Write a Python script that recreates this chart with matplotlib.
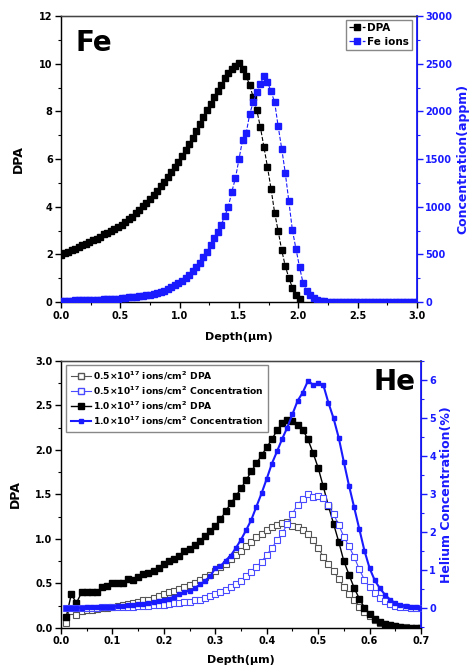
import numpy as np
import matplotlib
matplotlib.use("Agg")
import matplotlib.pyplot as plt
from matplotlib.ticker import MultipleLocator
from matplotlib.lines import Line2D

plt.rcParams['font.family'] = ['DejaVu Sans']
plt.rcParams['font.weight'] = 'bold'
plt.rcParams['mathtext.default'] = 'bf'

BLUE = '#1a1aff'

# ---- Fe panel data (depth step 0.03 um) ----
fe_dpa = [1.97, 2.05, 2.12, 2.18, 2.25, 2.32, 2.38, 2.45, 2.52, 2.60,
          2.67, 2.75, 2.84, 2.92, 3.00, 3.08, 3.14, 3.22, 3.35, 3.47,
          3.58, 3.72, 3.86, 4.02, 4.17, 4.33, 4.50, 4.68, 4.86, 5.05,
          5.25, 5.45, 5.66, 5.90, 6.13, 6.38, 6.62, 6.90, 7.18, 7.47,
          7.77, 8.06, 8.33, 8.60, 8.85, 9.12, 9.40, 9.62, 9.78, 9.90,
          10.02, 9.78, 9.50, 9.10, 8.60, 8.05, 7.35, 6.51, 5.67, 4.76,
          3.76, 2.99, 2.18, 1.52, 1.02, 0.61, 0.29, 0.13]
fe_conc = [15, 15, 16, 17, 18, 19, 20, 21, 22, 23,
           24, 26, 28, 30, 32, 35, 38, 41, 45, 49,
           53, 57, 62, 67, 72, 80, 88, 97, 108, 122,
           138, 155, 175, 198, 225, 255, 290, 325, 365, 410,
           470, 530, 600, 670, 740, 810, 900, 1000, 1160, 1300,
           1500, 1700, 1770, 1970, 2100, 2200, 2290, 2370, 2310, 2210,
           2100, 1845, 1610, 1355, 1060, 755, 560, 370, 200, 120,
           73, 45, 25, 14, 8, 5, 3, 0, 0, 0,
           0, 0, 0, 0, 0, 0, 0, 0, 0, 0,
           0, 0, 0, 0, 0, 0, 0, 0, 0, 0, 0]
fe_dpa_x = np.arange(len(fe_dpa)) * 0.03
fe_conc_x = np.arange(len(fe_conc)) * 0.03

# ---- He panel data (depth step 0.01 um) ----
he_x = np.round(np.arange(1, 71) * 0.01, 2)
dpa_05 = [0.06, 0.19, 0.15, 0.19, 0.20, 0.20, 0.21, 0.22, 0.23, 0.24,
          0.25, 0.26, 0.27, 0.28, 0.29, 0.31, 0.32, 0.34, 0.36, 0.38,
          0.40, 0.42, 0.44, 0.46, 0.48, 0.51, 0.54, 0.57, 0.60, 0.64,
          0.68, 0.72, 0.77, 0.82, 0.87, 0.92, 0.97, 1.02, 1.06, 1.10,
          1.13, 1.16, 1.18, 1.19, 1.15, 1.13, 1.10, 1.06, 0.99, 0.90,
          0.80, 0.72, 0.64, 0.55, 0.46, 0.38, 0.31, 0.24, 0.18, 0.13,
          0.09, 0.06, 0.04, 0.03, 0.02, 0.01, 0.01, 0.00, 0.00, 0.00]
conc_05 = [0.00, 0.00, 0.00, 0.00, 0.01, 0.01, 0.01, 0.02, 0.02, 0.02,
           0.03, 0.03, 0.04, 0.04, 0.05, 0.06, 0.06, 0.07, 0.08, 0.09,
           0.10, 0.12, 0.13, 0.15, 0.17, 0.20, 0.22, 0.26, 0.31, 0.36,
           0.42, 0.48, 0.55, 0.63, 0.72, 0.83, 0.95, 1.08, 1.22, 1.40,
           1.58, 1.78, 1.97, 2.20, 2.48, 2.72, 2.87, 3.00, 2.93, 2.95,
           2.90, 2.70, 2.48, 2.18, 1.88, 1.62, 1.35, 1.02, 0.74, 0.55,
           0.40, 0.27, 0.18, 0.11, 0.06, 0.03, 0.02, 0.01, 0.01, 0.00]
dpa_10 = [0.12, 0.38, 0.28, 0.40, 0.41, 0.41, 0.40, 0.46, 0.47, 0.50,
          0.50, 0.50, 0.55, 0.54, 0.57, 0.61, 0.62, 0.64, 0.67, 0.72,
          0.75, 0.78, 0.81, 0.86, 0.89, 0.93, 0.98, 1.03, 1.09, 1.15,
          1.22, 1.31, 1.40, 1.48, 1.57, 1.66, 1.76, 1.85, 1.94, 2.03,
          2.12, 2.22, 2.30, 2.34, 2.33, 2.28, 2.23, 2.12, 1.97, 1.80,
          1.59, 1.37, 1.17, 0.97, 0.75, 0.60, 0.45, 0.33, 0.23, 0.16,
          0.10, 0.07, 0.045, 0.03, 0.02, 0.01, 0.005, 0.003, 0.002, 0.001]
conc_10 = [0.00, 0.00, 0.01, 0.01, 0.02, 0.02, 0.03, 0.03, 0.04, 0.04,
           0.05, 0.06, 0.07, 0.08, 0.10, 0.11, 0.13, 0.15, 0.18, 0.21,
           0.25, 0.30, 0.36, 0.43, 0.45, 0.52, 0.62, 0.72, 0.83, 1.05,
           1.10, 1.25, 1.38, 1.58, 1.80, 2.05, 2.32, 2.67, 3.02, 3.40,
           3.80, 4.12, 4.45, 4.75, 5.10, 5.45, 5.67, 5.97, 5.88, 5.91,
           5.87, 5.40, 4.99, 4.48, 3.84, 3.22, 2.65, 2.08, 1.51, 1.05,
           0.73, 0.52, 0.35, 0.22, 0.13, 0.08, 0.05, 0.03, 0.02, 0.01]

labels_he = [r'0.5$\times$10$^{17}$ ions/cm$^2$ DPA',
             r'0.5$\times$10$^{17}$ ions/cm$^2$ Concentration',
             r'1.0$\times$10$^{17}$ ions/cm$^2$ DPA',
             r'1.0$\times$10$^{17}$ ions/cm$^2$ Concentration']


def style_axes(ax, ax2):
    for a in (ax, ax2):
        a.tick_params(which='both', direction='out', labelsize=7, pad=2)
        a.tick_params(which='major', length=4, width=1)
        a.tick_params(which='minor', length=2, width=0.8)
    ax2.spines['right'].set_color(BLUE)
    ax2.spines['right'].set_linewidth(1.3)
    ax2.tick_params(axis='y', which='both', colors=BLUE)
    for s in ('left', 'bottom', 'top'):
        ax.spines[s].set_linewidth(1.0)
        ax.spines[s].set_color('#222222')
    ax2.spines['top'].set_color('#444444')


fig = plt.figure(figsize=(4.74, 6.70), dpi=100)

# ---------------- Fe panel ----------------
ax1 = fig.add_axes([0.1287, 0.549, 0.751, 0.427])
ax1b = ax1.twinx()
ax1.plot(fe_dpa_x, fe_dpa, color='black', ls='--', lw=0.8,
         marker='s', ms=4.8, mec='black', mfc='black', zorder=3)
ax1b.plot(fe_conc_x, fe_conc, color=BLUE, ls='--', lw=0.8,
          marker='s', ms=4.8, mec=BLUE, mfc=BLUE, zorder=3)
ax1.set_xlim(0, 3.0)
ax1.set_ylim(0, 12)
ax1b.set_ylim(0, 3000)
ax1.xaxis.set_major_locator(MultipleLocator(0.5))
ax1.xaxis.set_minor_locator(MultipleLocator(0.25))
ax1.yaxis.set_major_locator(MultipleLocator(2))
ax1.yaxis.set_minor_locator(MultipleLocator(1))
ax1b.yaxis.set_major_locator(MultipleLocator(500))
ax1b.yaxis.set_minor_locator(MultipleLocator(250))
ax1.xaxis.set_major_formatter(plt.FormatStrFormatter('%.1f'))
style_axes(ax1, ax1b)
ax1.set_xlabel('Depth(\u03bcm)', fontsize=8, fontweight='bold', labelpad=8)
ax1.set_ylabel('DPA', fontsize=9, fontweight='bold', labelpad=10)
ax1b.set_ylabel('Concentration(appm)', fontsize=9, fontweight='bold',
                color=BLUE, labelpad=3)
ax1.text(0.04, 0.955, 'Fe', transform=ax1.transAxes, fontsize=20,
         fontweight='bold', ha='left', va='top')
h1 = Line2D([], [], color='black', ls='--', lw=0.9, marker='s', ms=4.8,
            mfc='black', mec='black')
h2 = Line2D([], [], color=BLUE, ls='--', lw=0.9, marker='s', ms=4.8,
            mfc=BLUE, mec=BLUE)
leg1 = ax1b.legend([h1, h2], ['DPA', 'Fe ions'], loc='upper right',
                   bbox_to_anchor=(0.99, 0.99), fontsize=7.5,
                   fancybox=False, edgecolor='#888888', framealpha=1,
                   handlelength=1.6, handletextpad=0.2, borderpad=0.3,
                   labelspacing=0.35, borderaxespad=0.1)
leg1.get_frame().set_linewidth(1.0)

# ---------------- He panel ----------------
ax2 = fig.add_axes([0.1287, 0.0627, 0.7595, 0.3985])
ax2b = ax2.twinx()
ax2.plot(he_x, dpa_05, color='#555555', lw=0.8, marker='s', ms=4.3,
         mfc='white', mec='#555555', mew=0.8, zorder=3)
ax2.plot(he_x, dpa_10, color='black', lw=1.0, marker='s', ms=4,
         mfc='black', mec='black', zorder=4)
ax2b.plot(he_x, conc_05, color='#4a4aff', lw=0.8, marker='s', ms=4.3,
          mfc='white', mec='#4a4aff', mew=0.8, zorder=3)
ax2b.plot(he_x, conc_10, color=BLUE, lw=1.5, marker='s', ms=3,
          mfc=BLUE, mec=BLUE, zorder=4)
ax2.set_xlim(0, 0.7)
ax2.set_ylim(0, 3.0)
ax2b.set_ylim(-0.525, 6.5)
ax2.xaxis.set_major_locator(MultipleLocator(0.1))
ax2.xaxis.set_minor_locator(MultipleLocator(0.05))
ax2.yaxis.set_major_locator(MultipleLocator(0.5))
ax2.yaxis.set_minor_locator(MultipleLocator(0.25))
ax2b.yaxis.set_major_locator(MultipleLocator(1))
ax2b.yaxis.set_minor_locator(MultipleLocator(0.5))
ax2.xaxis.set_major_formatter(plt.FormatStrFormatter('%.1f'))
ax2.yaxis.set_major_formatter(plt.FormatStrFormatter('%.1f'))
style_axes(ax2, ax2b)
ax2.set_xlabel('Depth(\u03bcm)', fontsize=8, fontweight='bold', labelpad=6)
ax2.set_ylabel('DPA', fontsize=9, fontweight='bold', labelpad=10)
ax2b.set_ylabel('Helium Concentration(%)', fontsize=9, fontweight='bold',
                color=BLUE, labelpad=3)
ax2.text(0.985, 0.975, 'He', transform=ax2.transAxes, fontsize=20,
         fontweight='bold', ha='right', va='top')
hh = [Line2D([], [], color='#555555', lw=0.8, marker='s', ms=4,
             mfc='white', mec='#555555'),
      Line2D([], [], color='#4a4aff', lw=0.8, marker='s', ms=4,
             mfc='white', mec='#4a4aff'),
      Line2D([], [], color='black', lw=1.0, marker='s', ms=3.8,
             mfc='black', mec='black'),
      Line2D([], [], color=BLUE, lw=1.5, marker='s', ms=3,
             mfc=BLUE, mec=BLUE)]
leg2 = ax2b.legend(hh, labels_he, loc='upper left',
                   bbox_to_anchor=(0.012, 0.99), fontsize=6.6,
                   fancybox=False, edgecolor='#888888', framealpha=1,
                   handlelength=2.2, handletextpad=0.2, borderpad=0.5,
                   labelspacing=0.3, borderaxespad=0.1)
leg2.get_frame().set_linewidth(1.0)

fig.savefig('out.png', dpi=100)
